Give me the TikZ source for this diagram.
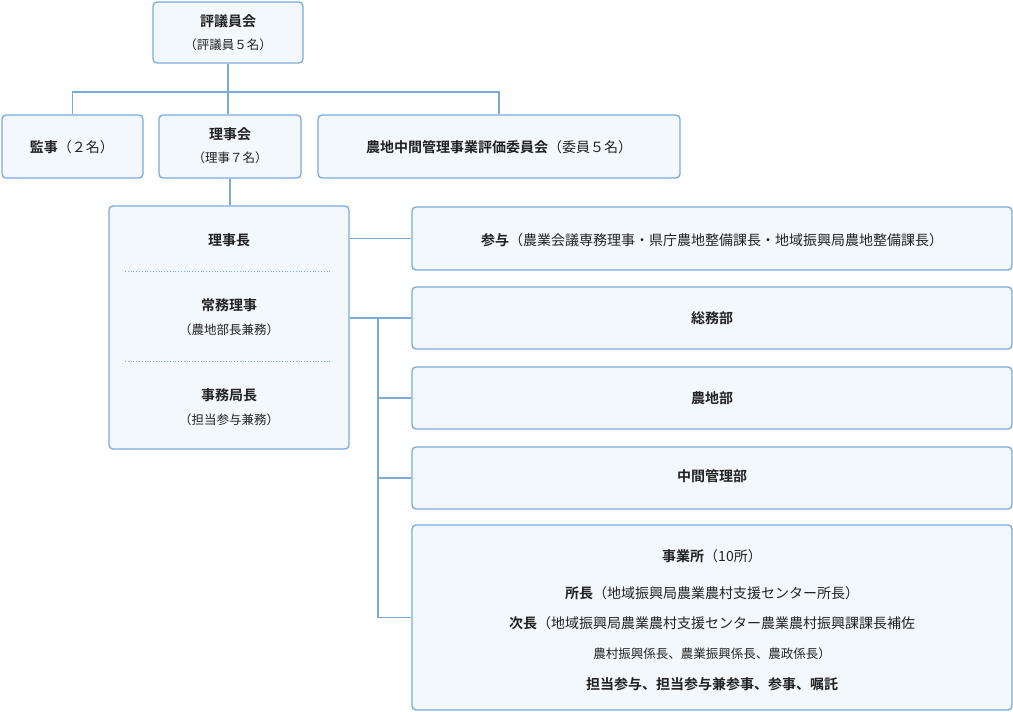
\documentclass[tikz,border=0pt]{standalone}
\usepackage{fontspec}
\setmainfont{Noto Sans CJK JP}[BoldFont={* Bold}]
\definecolor{bd}{HTML}{7AAADC}
\definecolor{bg}{HTML}{F3F8FC}
\definecolor{tx}{HTML}{222222}
\begin{document}
\begin{tikzpicture}[x=1pt,y=-1pt,
 box/.style={draw=bd,line width=1.3pt,fill=bg,rounded corners=4pt,inner sep=0pt},
 ln/.style={draw=bd,line width=1.3pt},
 t/.style={text=tx,font=\bfseries\fontsize{14}{16}\selectfont,align=center},
 s/.style={text=tx,font=\fontsize{12.5}{15}\selectfont,align=center}]
\useasboundingbox (0,0) rectangle (1013,712);
\newcommand\bx[5]{\node[box,minimum width=#4-#2,minimum height=#5-#3] (#1) at ({(#2+#4)/2},{(#3+#5)/2}) {};}
\bx{hy}{153}{2}{303}{63}
\bx{ka}{2}{115}{143}{178}
\bx{ri}{159}{115}{301}{178}
\bx{no}{318}{115}{680}{178}
\bx{lb}{109}{206}{349}{449}
\bx{sa}{412}{207}{1012}{270}
\bx{so}{412}{287}{1012}{349}
\bx{nc}{412}{367}{1012}{429}
\bx{ch}{412}{447}{1012}{509}
\bx{jg}{412}{525}{1012}{710}
\node[t] at (228,21) {評議員会};
\node[s] at (228,45) {（評議員５名）};
\node[t] at (72,147) {監事\mdseries（２名）};
\node[t] at (230,134) {理事会};
\node[s] at (230,158) {（理事７名）};
\node[t] at (499,147) {農地中間管理事業評価委員会\mdseries（委員５名）};
\node[t] at (229,240) {理事長};
\node[t] at (229,305) {常務理事};
\node[s] at (229,330) {（農地部長兼務）};
\node[t] at (229,395) {事務局長};
\node[s] at (229,420) {（担当参与兼務）};
\draw[bd,dotted,line width=0.8pt] (125,271) -- (332,271) (125,361) -- (332,361);
\node[t] at (712,240) {参与\mdseries（農業会議専務理事・県庁農地整備課長・地域振興局農地整備課長）};
\node[t] at (712,318) {総務部};
\node[t] at (712,398) {農地部};
\node[t] at (712,476) {中間管理部};
\node[t] at (712,556) {事業所\mdseries（10所）};
\node[t] at (712,593) {所長\mdseries（地域振興局農業農村支援センター所長）};
\node[t] at (712,623) {次長\mdseries（地域振興局農業農村支援センター農業農村振興課課長補佐};
\node[s] at (712,654) {農村振興係長、農業振興係長、農政係長）};
\node[t] at (712,684) {担当参与、担当参与兼参事、参事、嘱託};
\coordinate (j) at (228,92);
\draw[ln] (hy.south) -- (j);
\draw[ln] (ka.north) |- (j) -| (no.north);
\draw[ln] (j) -- (ri.north -| j);
\draw[ln] (ri.south) -- (lb.north -| ri.south);
\draw[ln] (lb.east |- sa) -- (sa.west);
\coordinate (b) at (378,318);
\draw[ln] (lb.east |- b) -- (b) -- (so.west);
\draw[ln] (b) |- (jg.west);
\draw[ln] (378,398) -- (nc.west);
\draw[ln] (378,478) -- (ch.west);
\end{tikzpicture}
\end{document}
